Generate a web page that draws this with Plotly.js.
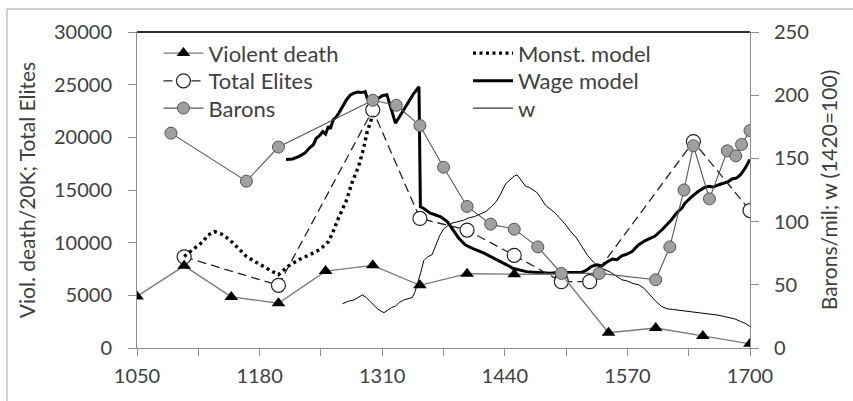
<!DOCTYPE html>
<html>
<head>
<meta charset="utf-8">
<script src="https://cdn.plot.ly/plotly-3.0.1.min.js"></script>
<style>html,body{margin:0;padding:0;background:#fff;}#chart{width:853px;height:401px;}</style>
</head>
<body>
<div id="chart"></div>
<script>
// ---- Data ----
var vdYears = [1050,1100,1150,1200,1250,1300,1350,1400,1450,1500,1550,1600,1650,1700];
var vdVals  = [4900,7800,4850,4250,7300,7850,5950,7050,7000,7000,1450,1900,1150,400];

var teYears = [1100,1200,1300,1350,1400,1450,1500,1530,1640,1700];
var teVals  = [8650,5950,22600,12300,11200,8800,6300,6300,19600,13050];

var bYears = [1086,1166,1200,1300,1325,1350,1375,1400,1425,1450,1475,1500,1540,1600,1615,1630,1640,1657,1676,1685,1691,1700];
var bVals  = [170,132,159,196,192,176,143,112,98,94,80,59,59,54,80,125,160,118,156,152,161,172];

var mYears = [1100,1111,1120,1125,1132,1140,1148,1157,1166,1175,1184,1192,1200,1210,1222,1233,1244,1253,1258,1263,1268,1272,1278,1285,1290,1294,1300];
var mVals  = [8700,9500,10100,10700,11050,10800,10300,9500,8700,8200,7750,7350,6950,7750,8400,8850,9350,10100,11050,12200,13300,14000,15700,17250,18850,20500,22100];

var wmYears = [1208,1215,1222,1228,1233,1237,1240,1244,1247,1250,1253,1255,1258,1261,1264,1268,1272,1276,1280,1284,1288,1292,1294,1298,1301,1306,1310,1315,1320,1324,1328,1333,1338,1343,1349,1350.5,1354,1361,1366,1372,1379,1384,1391,1398,1407,1418,1425,1432,1442,1449,1456,1463,1470,1478,1488,1494,1500,1508,1515,1522,1527,1532,1538,1543,1548,1554,1559,1564,1569,1575,1582,1589,1594,1599,1607,1612,1617,1622,1628,1631,1638,1645,1651,1656,1661,1667,1672,1677,1681,1686,1690,1695,1700];
var wmVals  = [17900,17950,18200,18500,19000,19300,19900,20200,20550,20300,21050,20800,21650,21900,22300,22900,23550,24000,24200,24300,24250,24350,23750,23850,23900,23700,23950,24050,22400,21350,21900,22600,23300,24100,24800,13400,13250,12800,12650,12450,12000,11400,10450,9800,9400,9000,8700,8400,7900,7550,7400,7250,7200,7150,7100,7150,7150,7150,7180,7200,7400,7750,7900,7800,8150,8450,8380,8750,8900,9150,9800,10200,10400,10600,11250,11700,12200,12800,13300,13750,14350,14850,15200,15350,15280,15500,15650,15800,16050,16150,16450,17100,17900];

var wYears = [1268,1274,1280,1285,1289,1293,1297,1301,1305,1309,1312,1316,1320,1324,1328,1333,1338,1342,1345,1348,1351,1354,1358,1363,1367,1371,1375,1380,1385,1390,1396,1402,1408,1414,1420,1426,1431,1435,1438,1441,1444,1447,1450,1453,1456,1459,1462,1466,1470,1474,1478,1483,1488,1493,1498,1504,1510,1516,1522,1528,1534,1540,1546,1552,1558,1564,1570,1576,1582,1588,1594,1600,1606,1612,1618,1624,1630,1636,1642,1648,1654,1660,1666,1672,1678,1684,1690,1695,1700];
var wVals  = [35,37,38,40,42,40,37,34,31,29,28,30,32,33,36,38,39,40,45,52,60,69,72,74,82,89,94,97,99,100,101,103,104,106,108,112,116,121,126,130,132,134,136,137,134,131,128,127,125,123,119,113,110,107,103,98,92,87,80,73,68,64,62,60,57,54,53,51,50,47,42,37,33,31,30.5,30,29.5,29,28.5,28,27.5,27,26,25,24,23,21,19.5,17];

var xTickVals = [1050,1180,1310,1440,1570,1700];
var xTickText = ['1050','1180','1310','1440','1570','1700'];

// ---- Styles ----
var FONT = 'Lato, "Open Sans", sans-serif';
var TXT = '#404040';
var AX = '#8c8c8c';
var FS = 20;   // tick labels
var FL = 22;   // legend
var FT = 21;   // axis titles

var traces = [
  {x: wmYears, y: wmVals, name: 'Wage model', type: 'scatter', mode: 'lines',
   line: {color: '#000', width: 3}, yaxis: 'y', legend: 'legend5'},
  {x: wYears, y: wVals, name: 'w', type: 'scatter', mode: 'lines',
   line: {color: '#000', width: 1}, yaxis: 'y2', legend: 'legend6'},
  {x: teYears, y: teVals, name: 'Total Elites', type: 'scatter', mode: 'lines+markers',
   line: {color: '#222', width: 1.3, dash: '9px,5px'},
   marker: {symbol: 'circle', size: 14, color: '#fff', line: {color: '#222', width: 1.2}},
   yaxis: 'y', legend: 'legend2'},
  {x: mYears, y: mVals, name: 'Monst. model', type: 'scatter', mode: 'lines',
   line: {color: '#000', width: 3.4, dash: '3px,3.5px'}, yaxis: 'y', legend: 'legend4'},
  {x: vdYears, y: vdVals, name: 'Violent death', type: 'scatter', mode: 'lines+markers',
   line: {color: '#7a7a7a', width: 1.3},
   marker: {symbol: 'triangle-up', size: 12, color: '#000'},
   yaxis: 'y', legend: 'legend'},
  {x: bYears, y: bVals, name: 'Barons', type: 'scatter', mode: 'lines+markers',
   line: {color: '#555', width: 1.1},
   marker: {symbol: 'circle', size: 12, color: '#a0a0a0', line: {color: '#555', width: 1}},
   yaxis: 'y2', legend: 'legend3'}
];

function leg(x, y) {
  return {
    orientation: 'v', bgcolor: 'rgba(0,0,0,0)', borderwidth: 0,
    font: {family: FONT, size: FL, color: TXT},
    itemwidth: 40, tracegroupgap: 0, yanchor: 'middle', xanchor: 'left',
    x: x, y: y
  };
}
var col1 = 0.035, col2 = 0.54;
var row1 = 0.9326, row2 = 0.845, row3 = 0.7585;

var layout = {
  width: 853, height: 401,
  margin: {l: 137, r: 103, t: 32, b: 53},
  paper_bgcolor: '#fff', plot_bgcolor: '#fff',
  font: {family: FONT, size: FS, color: TXT},
  showlegend: true,
  legend:  leg(col1, row1),
  legend2: leg(col1, row2),
  legend3: leg(col1, row3),
  legend4: leg(col2, row1),
  legend5: leg(col2, row2),
  legend6: leg(col2, row3),
  xaxis: {
    range: [1050, 1700], tickvals: xTickVals, ticktext: xTickText,
    ticks: 'outside', ticklen: 7, tickcolor: AX, tickwidth: 1, ticklabelstandoff: 3,
    minor: {tickvals: [1115,1245,1375,1505,1635], ticks: 'outside', ticklen: 7, tickcolor: AX, tickwidth: 1},
    showline: true, linecolor: AX, linewidth: 1,
    showgrid: false, zeroline: false, fixedrange: true,
    tickfont: {family: FONT, size: FS, color: TXT}
  },
  xaxis2: {
    overlaying: 'x', anchor: 'y', range: [1050, 1700],
    tick0: 1050, dtick: 65, ticks: 'inside', ticklen: 3, tickcolor: AX,
    showticklabels: false, showline: false, showgrid: false, zeroline: false
  },
  yaxis: {
    range: [0, 30000], dtick: 5000, tick0: 0, tickformat: 'd',
    ticks: 'outside', ticklen: 8, tickcolor: AX, tickwidth: 1, ticklabelstandoff: 12,
    showline: true, linecolor: AX, linewidth: 1,
    showgrid: false, zeroline: false, fixedrange: true,
    tickfont: {family: FONT, size: FS, color: TXT},
    title: {text: 'Viol. death/20K; Total Elites', font: {family: FONT, size: FT, color: TXT}, standoff: 12}
  },
  yaxis2: {
    overlaying: 'y', side: 'right', anchor: 'x',
    range: [0, 250], dtick: 50, tick0: 0, tickformat: 'd',
    ticks: 'outside', ticklen: 8, tickcolor: AX, tickwidth: 1, ticklabelstandoff: 11,
    showline: true, linecolor: AX, linewidth: 1,
    showgrid: false, zeroline: false, fixedrange: true,
    tickfont: {family: FONT, size: FS, color: TXT},
    title: {text: 'Barons/mil; w (1420=100)', font: {family: FONT, size: FT, color: TXT}, standoff: 14}
  },
  shapes: [
    {type: 'line', xref: 'paper', yref: 'paper', x0: 0, x1: 1, y0: 1, y1: 1,
     line: {color: '#303030', width: 2}},
    {type: 'rect', xref: 'paper', yref: 'paper', x0: -0.2121, x1: 1.3, y0: -0.3, y1: 1.0728,
     line: {color: '#a0a0a0', width: 1}, layer: 'below'}
  ]
};

Plotly.newPlot('chart', traces, layout, {staticPlot: true, displayModeBar: false});
</script>
</body>
</html>
